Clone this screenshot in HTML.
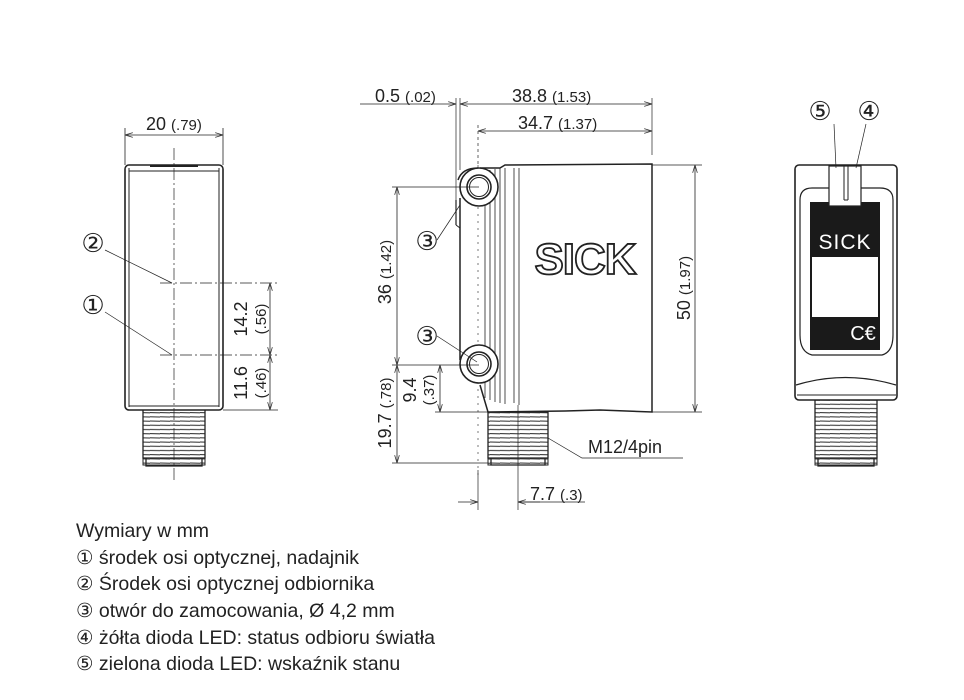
<!DOCTYPE html>
<html><head><meta charset="utf-8"><style>
html,body{margin:0;padding:0;background:#fff;width:964px;height:700px;overflow:hidden}
svg text{font-family:"Liberation Sans","DejaVu Sans",sans-serif;fill:#222}
</style></head><body>
<svg width="964" height="700" viewBox="0 0 964 700" xmlns="http://www.w3.org/2000/svg">
<defs>
<marker id="a" viewBox="0 0 10 6" refX="10" refY="3" markerWidth="10" markerHeight="6" orient="auto-start-reverse"><path d="M0,0 L10,3 L0,6" fill="none" stroke="#333" stroke-width="1"/></marker>
<pattern id="th" width="10" height="4.2" patternUnits="userSpaceOnUse"><line x1="0" y1="1" x2="100" y2="3" stroke="#333" stroke-width="1"/></pattern>
</defs>
<g stroke="#222" fill="none" stroke-width="1">
<line x1="125" y1="128" x2="125" y2="165" stroke-width="0.8"/>
<line x1="223" y1="128" x2="223" y2="165" stroke-width="0.8"/>
<line x1="125" y1="135" x2="223" y2="135" marker-start="url(#a)" marker-end="url(#a)" stroke-width="0.8"/>
<rect x="125" y="165" width="98" height="245" rx="4" stroke-width="1.6"/>
<line x1="129" y1="168" x2="129" y2="407"/>
<line x1="219" y1="168" x2="219" y2="407"/>
<line x1="129" y1="171" x2="219" y2="171"/>
<line x1="129" y1="406" x2="219" y2="406"/>
<line x1="150" y1="166" x2="198" y2="166" stroke-width="2"/>
<rect x="143" y="410" width="62" height="55" fill="url(#th)"/>
<path d="M143,410 V458 H205 V410 M146,458 V466 H202 V458" stroke-width="1.3"/>
<line x1="174" y1="148" x2="174" y2="480" stroke-dasharray="12,3,2,3" stroke-width="0.7"/>
<line x1="160" y1="283" x2="278" y2="283" stroke-dasharray="12,3,2,3" stroke-width="0.7"/>
<line x1="160" y1="355" x2="278" y2="355" stroke-dasharray="12,3,2,3" stroke-width="0.7"/>
<line x1="223" y1="410" x2="278" y2="410" stroke-width="0.7"/>
<line x1="270" y1="283" x2="270" y2="355" marker-start="url(#a)" marker-end="url(#a)" stroke-width="0.8"/>
<line x1="270" y1="355" x2="270" y2="410" marker-start="url(#a)" marker-end="url(#a)" stroke-width="0.8"/>
<line x1="105" y1="250" x2="172" y2="283" stroke-width="0.7"/>
<line x1="105" y1="312" x2="172" y2="355" stroke-width="0.7"/>

<line x1="360" y1="104" x2="456" y2="104" marker-end="url(#a)" stroke-width="0.8"/>
<line x1="460" y1="104" x2="652" y2="104" marker-start="url(#a)" marker-end="url(#a)" stroke-width="0.8"/>
<line x1="478" y1="131" x2="652" y2="131" marker-start="url(#a)" marker-end="url(#a)" stroke-width="0.8"/>
<line x1="456" y1="98" x2="456" y2="200" stroke-width="0.7"/>
<line x1="460" y1="98" x2="460" y2="170" stroke-width="0.7"/>
<line x1="478" y1="125" x2="478" y2="168" stroke-width="0.7" stroke-dasharray="3,3"/>
<line x1="652" y1="98" x2="652" y2="155" stroke-width="0.7"/>
<path d="M500,168 L505,165 L652,164 L652,412 L600,410 L565,411 L488,412 L480,385 M460,198 L460,360 M500,168 L480,168" stroke-width="1.5"/>
<path d="M458,180 Q462,168 478,168" stroke-width="1.5"/>
<line x1="456" y1="200" x2="456" y2="225" stroke-width="1.2"/>
<line x1="456" y1="225" x2="460" y2="228"/>
<g stroke-width="0.8">
<line x1="485" y1="172" x2="485" y2="398"/><line x1="490" y1="170" x2="490" y2="400"/><line x1="495" y1="169" x2="495" y2="402"/><line x1="500" y1="168" x2="500" y2="403"/><line x1="505" y1="168" x2="505" y2="404"/><line x1="514" y1="168" x2="514" y2="403"/><line x1="519" y1="168" x2="519" y2="405"/>
</g>
<line x1="478" y1="165" x2="478" y2="480" stroke-width="0.6" stroke-dasharray="2,5"/>
<circle cx="479" cy="187" r="19" stroke-width="1.6" fill="#fff"/>
<circle cx="479" cy="187" r="12" stroke-width="1.6"/>
<circle cx="479" cy="187" r="9.5"/>
<circle cx="479" cy="364" r="19" stroke-width="1.6" fill="#fff"/>
<circle cx="479" cy="364" r="12" stroke-width="1.6"/>
<circle cx="479" cy="364" r="9.5"/>
<text x="585" y="274" font-size="44" font-weight="bold" text-anchor="middle" fill="#fff" stroke="#222" stroke-width="1.8" style="fill:#fff;letter-spacing:-1px">SICK</text>
<rect x="488" y="412" width="60" height="53" fill="url(#th)"/>
<path d="M488,412 V458 H548 V412 M491,458 V465 H545 V458" stroke-width="1.3"/>
<line x1="518" y1="405" x2="518" y2="510" stroke-width="0.7"/>
<line x1="652" y1="165" x2="702" y2="165" stroke-width="0.7"/>
<line x1="652" y1="412" x2="702" y2="412" stroke-width="0.7"/>
<line x1="695" y1="165" x2="695" y2="412" marker-start="url(#a)" marker-end="url(#a)" stroke-width="0.8"/>
<line x1="392" y1="187" x2="479" y2="187" stroke-width="0.7"/>
<line x1="392" y1="365" x2="479" y2="365" stroke-width="0.7"/>
<line x1="397" y1="187" x2="397" y2="365" marker-start="url(#a)" marker-end="url(#a)" stroke-width="0.8"/>
<line x1="397" y1="365" x2="397" y2="463" marker-start="url(#a)" marker-end="url(#a)" stroke-width="0.8"/>
<line x1="392" y1="463" x2="488" y2="463" stroke-width="0.7"/>
<line x1="435" y1="412" x2="488" y2="412" stroke-width="0.7"/>
<line x1="440" y1="365" x2="440" y2="412" marker-start="url(#a)" marker-end="url(#a)" stroke-width="0.8"/>
<line x1="478" y1="470" x2="478" y2="510" stroke-width="0.7"/>
<line x1="458" y1="502" x2="478" y2="502" marker-end="url(#a)" stroke-width="0.8"/>
<line x1="518" y1="502" x2="540" y2="502" marker-start="url(#a)" stroke-width="0.8"/>
<line x1="518" y1="502" x2="585" y2="502" stroke-width="0.8"/>
<path d="M548,438 L582,458 L683,458" stroke-width="0.7"/>
<line x1="437" y1="240" x2="460" y2="205" stroke-width="0.7"/>
<line x1="437" y1="336" x2="477" y2="362" stroke-width="0.7"/>

<rect x="795" y="165" width="102" height="235" rx="4" stroke-width="1.6"/>
<path d="M800,200 L800,335 Q800,352 812,355 L882,355 Q893,352 893,335 L893,200 Q893,188 880,188 L812,188 Q800,188 800,200" stroke-width="1.2"/>
<rect x="810" y="202" width="70" height="148" fill="#1a1a1a" stroke="none"/>
<rect x="812" y="257" width="66" height="60" fill="#fff" stroke="none"/>
<rect x="829" y="166" width="32" height="40" fill="#fff" stroke-width="1.2"/>
<line x1="844" y1="166" x2="844" y2="200"/><line x1="848" y1="166" x2="848" y2="200"/>
<line x1="844" y1="200" x2="848" y2="200"/>
<path d="M796,385 Q845,370 896,385" stroke-width="1.2"/>
<line x1="797" y1="395" x2="896" y2="395"/>
<rect x="815" y="400" width="62" height="65" fill="url(#th)"/>
<path d="M815,400 V458 H877 V400 M818,458 V466 H874 V458" stroke-width="1.3"/>
<line x1="834" y1="124" x2="836" y2="168" stroke-width="0.7"/>
<line x1="866" y1="124" x2="856" y2="168" stroke-width="0.7"/>
</g>
<text x="845" y="249" font-size="21" text-anchor="middle" style="fill:#fff;letter-spacing:1px">SICK</text>
<text x="863" y="340" font-size="20" text-anchor="middle" style="fill:#fff">C€</text>

<g font-size="18">
<text x="146" y="130">20 <tspan font-size="15">(.79)</tspan></text>
<text x="375" y="102">0.5 <tspan font-size="15">(.02)</tspan></text>
<text x="512" y="102">38.8 <tspan font-size="15">(1.53)</tspan></text>
<text x="518" y="129">34.7 <tspan font-size="15">(1.37)</tspan></text>
<text x="530" y="500">7.7 <tspan font-size="15">(.3)</tspan></text>
<text x="588" y="453" font-size="18">M12/4pin</text>
<text transform="translate(247,319) rotate(-90)" text-anchor="middle">14.2</text>
<text transform="translate(266,319) rotate(-90)" text-anchor="middle" font-size="15">(.56)</text>
<text transform="translate(247,383) rotate(-90)" text-anchor="middle">11.6</text>
<text transform="translate(266,383) rotate(-90)" text-anchor="middle" font-size="15">(.46)</text>
<text transform="translate(391,272) rotate(-90)" text-anchor="middle">36 <tspan font-size="15">(1.42)</tspan></text>
<text transform="translate(391,413) rotate(-90)" text-anchor="middle">19.7 <tspan font-size="15">(.78)</tspan></text>
<text transform="translate(416,390) rotate(-90)" text-anchor="middle">9.4</text>
<text transform="translate(434,390) rotate(-90)" text-anchor="middle" font-size="15">(.37)</text>
<text transform="translate(690,288) rotate(-90)" text-anchor="middle">50 <tspan font-size="15">(1.97)</tspan></text>
</g>
<g font-size="26" text-anchor="middle">
<text x="93" y="252">②</text><text x="93" y="314">①</text>
<text x="427" y="250">③</text><text x="427" y="345">③</text>
<text x="820" y="120">⑤</text><text x="869" y="120">④</text>
</g>
<g font-size="19.5">
<text x="76" y="537">Wymiary w mm</text>
<text x="76" y="564">① środek osi optycznej, nadajnik</text>
<text x="76" y="590">② Środek osi optycznej odbiornika</text>
<text x="76" y="617">③ otwór do zamocowania, Ø 4,2 mm</text>
<text x="76" y="644">④ żółta dioda LED: status odbioru światła</text>
<text x="76" y="670">⑤ zielona dioda LED: wskaźnik stanu</text>
</g>
</svg>
</body></html>
